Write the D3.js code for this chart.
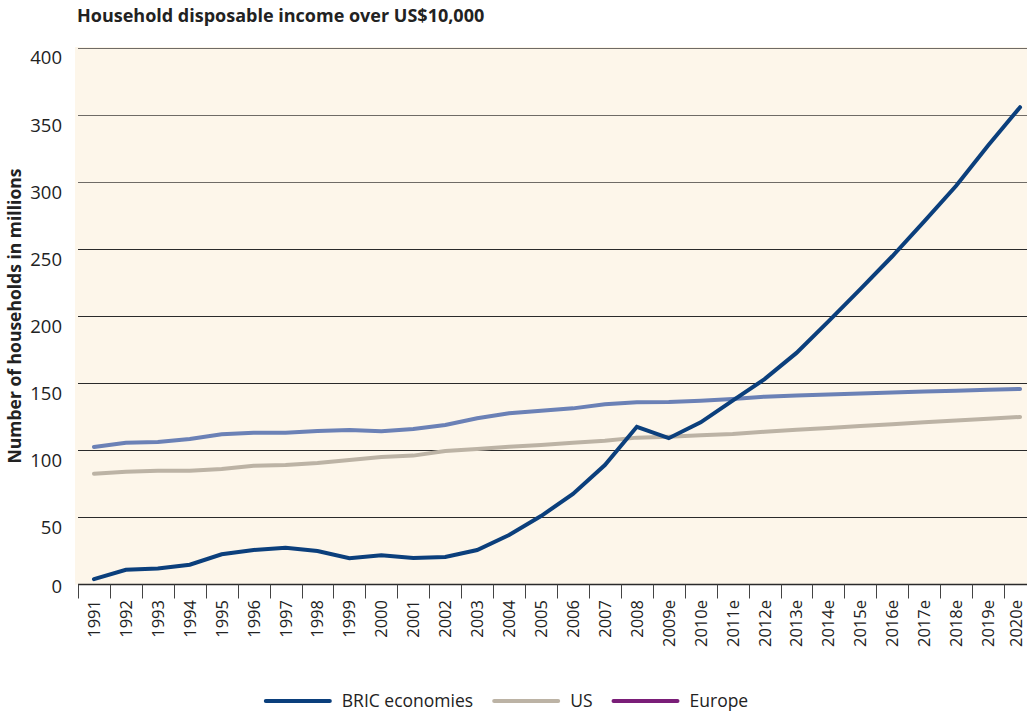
<!DOCTYPE html>
<html>
<head>
<meta charset="utf-8">
<script src="https://cdn.jsdelivr.net/npm/d3@7"></script>
<style>
  html, body { margin: 0; padding: 0; background: #ffffff; }
  svg { display: block; }
  text { font-family: "Open Sans", "Noto Sans", sans-serif; fill: #222; }
</style>
</head>
<body>
<script>
const years = ["1991","1992","1993","1994","1995","1996","1997","1998","1999","2000",
  "2001","2002","2003","2004","2005","2006","2007","2008","2009e","2010e",
  "2011e","2012e","2013e","2014e","2015e","2016e","2017e","2018e","2019e","2020e"];

const bric = [4, 11, 12, 14.7, 22.5, 25.7, 27.4, 25, 19.5, 21.7,
  19.7, 20.5, 25.7, 36.9, 51, 67.4, 89, 117.5, 109, 120.8,
  137, 153, 172.5, 196, 220, 244.5, 270.5, 297, 327, 355.5];

const us = [82.5, 84, 84.8, 84.8, 86, 88.5, 89, 90.5, 92.7, 95,
  96, 99.4, 100.9, 102.6, 103.9, 105.6, 107.1, 109.4, 110.1, 111.1,
  112.1, 113.8, 115.2, 116.6, 118, 119.4, 120.8, 122.1, 123.5, 124.8];

const europe = [102.4, 105.6, 106.1, 108.4, 111.9, 113, 113, 114.3, 115, 114.1,
  115.8, 118.8, 123.8, 127.5, 129.5, 131.2, 134.2, 135.7, 136, 136.9,
  138.2, 139.9, 140.8, 141.6, 142.3, 143, 143.7, 144.4, 145, 145.7];

const yTicks = [0, 50, 100, 150, 200, 250, 300, 350, 400];

const seriesNames = ["BRIC economies", "US", "Europe"];
const legendColors = ["#0b3f7c", "#bcb3a5", "#7a1e78"];
const lineColors = ["#0b3f7c", "#bcb3a5", "#6b81b6"];

const W = 1027, H = 715;
const svg = d3.select("body").append("svg").attr("width", W).attr("height", H);

const x = d3.scaleBand().domain(years).range([78, 1036]);
const y = d3.scaleLinear().domain([0, 400]).range([584.5, 47.5]);

// background
svg.append("rect")
  .attr("x", 75).attr("y", y(400) - 0.5)
  .attr("width", W - 75).attr("height", y(0) - y(400) + 0.5)
  .attr("fill", "#fdf6ea");

// title
svg.append("text")
  .attr("x", 77).attr("y", 22)
  .attr("font-size", 18).attr("font-weight", "bold")
  .text("Household disposable income over US$10,000");

// gridlines
svg.append("g").selectAll("line")
  .data(yTicks.filter(d => d > 0))
  .join("line")
  .attr("x1", 78).attr("x2", W)
  .attr("y1", d => Math.round(y(d)) + 0.5).attr("y2", d => Math.round(y(d)) + 0.5)
  .attr("stroke", d => d >= 300 ? "#6f6b66" : "#2a2a2a").attr("stroke-width", 1.2);

// y tick labels
svg.append("g").selectAll("text")
  .data(yTicks)
  .join("text")
  .attr("x", 62)
  .attr("y", d => y(d) + (d === 0 ? 2 : 10.5))
  .attr("dy", "0.35em")
  .attr("text-anchor", "end")
  .attr("font-size", 18.5)
  .attr("fill", "#333")
  .text(d => d);

// y axis title
svg.append("text")
  .attr("transform", `translate(21, ${(y(0) + y(400)) / 2}) rotate(-90)`)
  .attr("text-anchor", "middle")
  .attr("font-size", 17.5).attr("font-weight", "bold")
  .text("Number of households in millions");

// x axis
const xAxis = d3.axisBottom(x).tickSize(0).tickFormat(d => d);
const gx = svg.append("g").attr("transform", `translate(0, ${y(0)})`).call(xAxis);
gx.select(".domain").remove();
gx.selectAll(".tick text").remove();
svg.append("line")
  .attr("x1", 78).attr("x2", W)
  .attr("y1", y(0)).attr("y2", y(0))
  .attr("stroke", "#2a2a2a").attr("stroke-width", 1.3);
// boundary ticks
svg.append("g").selectAll("line")
  .data(years)
  .join("line")
  .attr("x1", d => Math.round(x(d)) + 0.5).attr("x2", d => Math.round(x(d)) + 0.5)
  .attr("y1", y(0)).attr("y2", y(0) + 14)
  .attr("stroke", "#444").attr("stroke-width", 1);
// x labels
svg.append("g").selectAll("text")
  .data(years)
  .join("text")
  .attr("transform", d => `translate(${Math.min(x(d) + x.bandwidth() / 2, 1016)}, 600) rotate(-90)`)
  .attr("text-anchor", "end")
  .attr("dy", "0.36em")
  .attr("font-size", 16.5)
  .text(d => d);

// lines
const seriesData = [bric, us, europe];
const line = d3.line()
  .x((d, i) => x(years[i]) + x.bandwidth() / 2)
  .y(d => y(d));

[1, 2, 0].forEach(k => {
  svg.append("path")
    .datum(seriesData[k])
    .attr("d", line)
    .attr("fill", "none")
    .attr("stroke", lineColors[k])
    .attr("stroke-width", 4)
    .attr("stroke-linejoin", "miter")
    .attr("stroke-linecap", "round");
});

// legend
const lg = svg.append("g");
let cx = 0;
seriesNames.forEach((name, k) => {
  const g = lg.append("g").attr("transform", `translate(${cx},0)`);
  g.append("line").attr("x1", 0).attr("x2", 64).attr("y1", 0).attr("y2", 0)
    .attr("stroke", legendColors[k]).attr("stroke-width", 4).attr("stroke-linecap", "round");
  const t = g.append("text").attr("x", 76).attr("y", 0).attr("dy", "0.35em")
    .attr("font-size", 17.5).attr("fill", "#222").text(name);
  const w = t.node().getComputedTextLength();
  cx += 76 + w + 21;
});
const totalW = cx - 21;
lg.attr("transform", `translate(${507 - totalW / 2}, 701)`);
</script>
</body>
</html>
